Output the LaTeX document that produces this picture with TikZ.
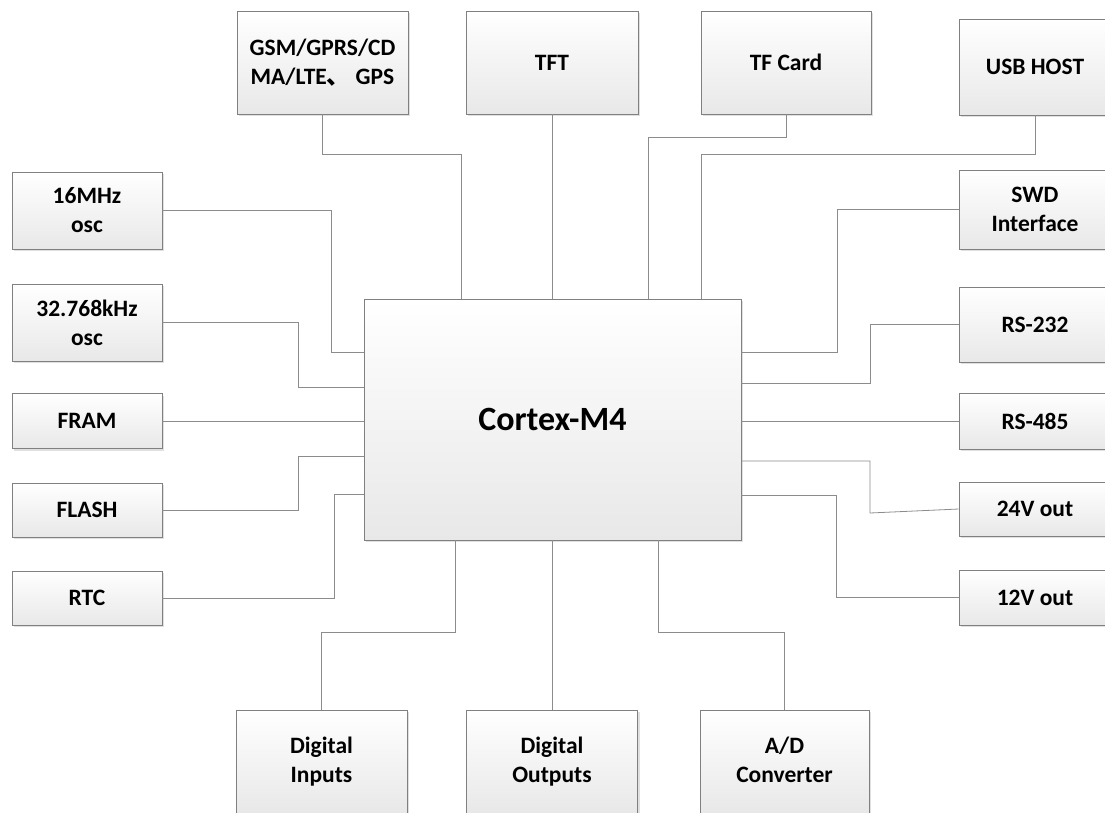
\documentclass[tikz,border=0pt]{standalone}
\usepackage{fontspec}
\setmainfont{Carlito}
\newfontfamily\cjk{Noto Sans CJK SC}
\usetikzlibrary{shadows}

\tikzset{
  blk/.style={draw=black!50, line width=0.7pt, top color=white, bottom color=black!9,
    drop shadow={shadow xshift=2pt, shadow yshift=-2pt, opacity=0.3, fill=black!40},
    align=center, inner sep=0pt, font=\fontsize{23.5}{29}\selectfont\bfseries},
  sz/.style 2 args={minimum width=#1, minimum height=#2},
  link/.style={draw=black!45, line width=0.8pt},
}

\begin{document}
\begin{tikzpicture}[x=1pt, y=-1pt]
    \useasboundingbox (0,0) rectangle (1105,812);
    \clip (0,0) rectangle (1105,812);

    % MCU
    \node[blk, sz={377}{241}, font=\fontsize{34}{40}\selectfont\bfseries] (mcu) at (552.5,419.5) {Cortex-M4};

    % Blocchi in alto
    \node[blk, sz={171}{103}] (gsm) at (322.5,62.5) {GSM/GPRS/CD\\MA/LTE{\cjk 、} GPS};
    \node[blk, sz={172}{103}] (tft) at (552,62.5) {TFT};
    \node[blk, sz={170}{103}] (tfc) at (786,62.5) {TF Card};
    \node[blk, sz={152}{96}] (usb) at (1035,67) {USB HOST};

    % Blocchi a sinistra
    \node[blk, sz={150}{77}] (osca) at (87,210.5) {16MHz\\osc};
    \node[blk, sz={150}{77}] (oscb) at (87,322.5) {32.768kHz\\osc};
    \node[blk, sz={150}{55}] (fram) at (87,421) {FRAM};
    \node[blk, sz={150}{54}] (flash) at (87,510) {FLASH};
    \node[blk, sz={150}{54}] (rtc) at (87,598) {RTC};

    % Blocchi a destra
    \node[blk, sz={152}{79}] (swd) at (1035,209.5) {SWD\\Interface};
    \node[blk, sz={152}{75}] (rsa) at (1035,324.5) {RS-232};
    \node[blk, sz={152}{56}] (rsb) at (1035,421) {RS-485};
    \node[blk, sz={152}{54}] (vouta) at (1035,509) {24V out};
    \node[blk, sz={152}{55}] (voutb) at (1035,597.5) {12V out};

    % Blocchi in basso
    \node[blk, sz={171}{103}] (din) at (321.5,761.5) {Digital\\Inputs};
    \node[blk, sz={171}{103}] (dout) at (552,761.5) {Digital\\Outputs};
    \node[blk, sz={169}{103}] (adc) at (784.5,761.5) {A/D\\Converter\vphantom{p}};

    % Punti di piega
    \coordinate (kgsm) at (461,154);
    \coordinate (ktfc) at (648,137);
    \coordinate (kusb) at (701,154);
    \coordinate (kswd) at (837,352);
    \coordinate (krsa) at (870,383);
    \coordinate (kvouta) at (870,461);
    \coordinate (kvoutb) at (836,495);
    \coordinate (kosca) at (331,352);
    \coordinate (koscb) at (298,387);
    \coordinate (kflash) at (298,456);
    \coordinate (krtc) at (334,494);
    \coordinate (kdin) at (455,632);
    \coordinate (kadc) at (658,632);

    % Collegamenti
    \draw[link] (gsm.south) |- (kgsm) -- (kgsm |- mcu.north);
    \draw[link] (tft.south) -- (tft.south |- mcu.north);
    \draw[link] (tfc.south) |- (ktfc) -- (ktfc |- mcu.north);
    \draw[link] (usb.south) |- (kusb) -- (kusb |- mcu.north);

    \draw[link] (osca.east) -| (kosca) -- (kosca -| mcu.west);
    \draw[link] (oscb.east) -| (koscb) -- (koscb -| mcu.west);
    \draw[link] (fram.east) -- (fram.east -| mcu.west);
    \draw[link] (flash.east) -| (kflash) -- (kflash -| mcu.west);
    \draw[link] (rtc.east) -| (krtc) -- (krtc -| mcu.west);

    \draw[link] (swd.west) -| (kswd) -- (kswd -| mcu.east);
    \draw[link] (rsa.west) -| (krsa) -- (krsa -| mcu.east);
    \draw[link] (rsb.west) -- (rsb.west -| mcu.east);
    \draw[link] (kvouta -| mcu.east) -- (kvouta) -- ++(0,52) -- (vouta.west);
    \draw[link] (voutb.west) -| (kvoutb) -- (kvoutb -| mcu.east);

    \draw[link] (kdin |- mcu.south) -- (kdin) -| (din.north);
    \draw[link] (dout.north) -- (dout.north |- mcu.south);
    \draw[link] (kadc |- mcu.south) -- (kadc) -| (adc.north);
\end{tikzpicture}
\end{document}
